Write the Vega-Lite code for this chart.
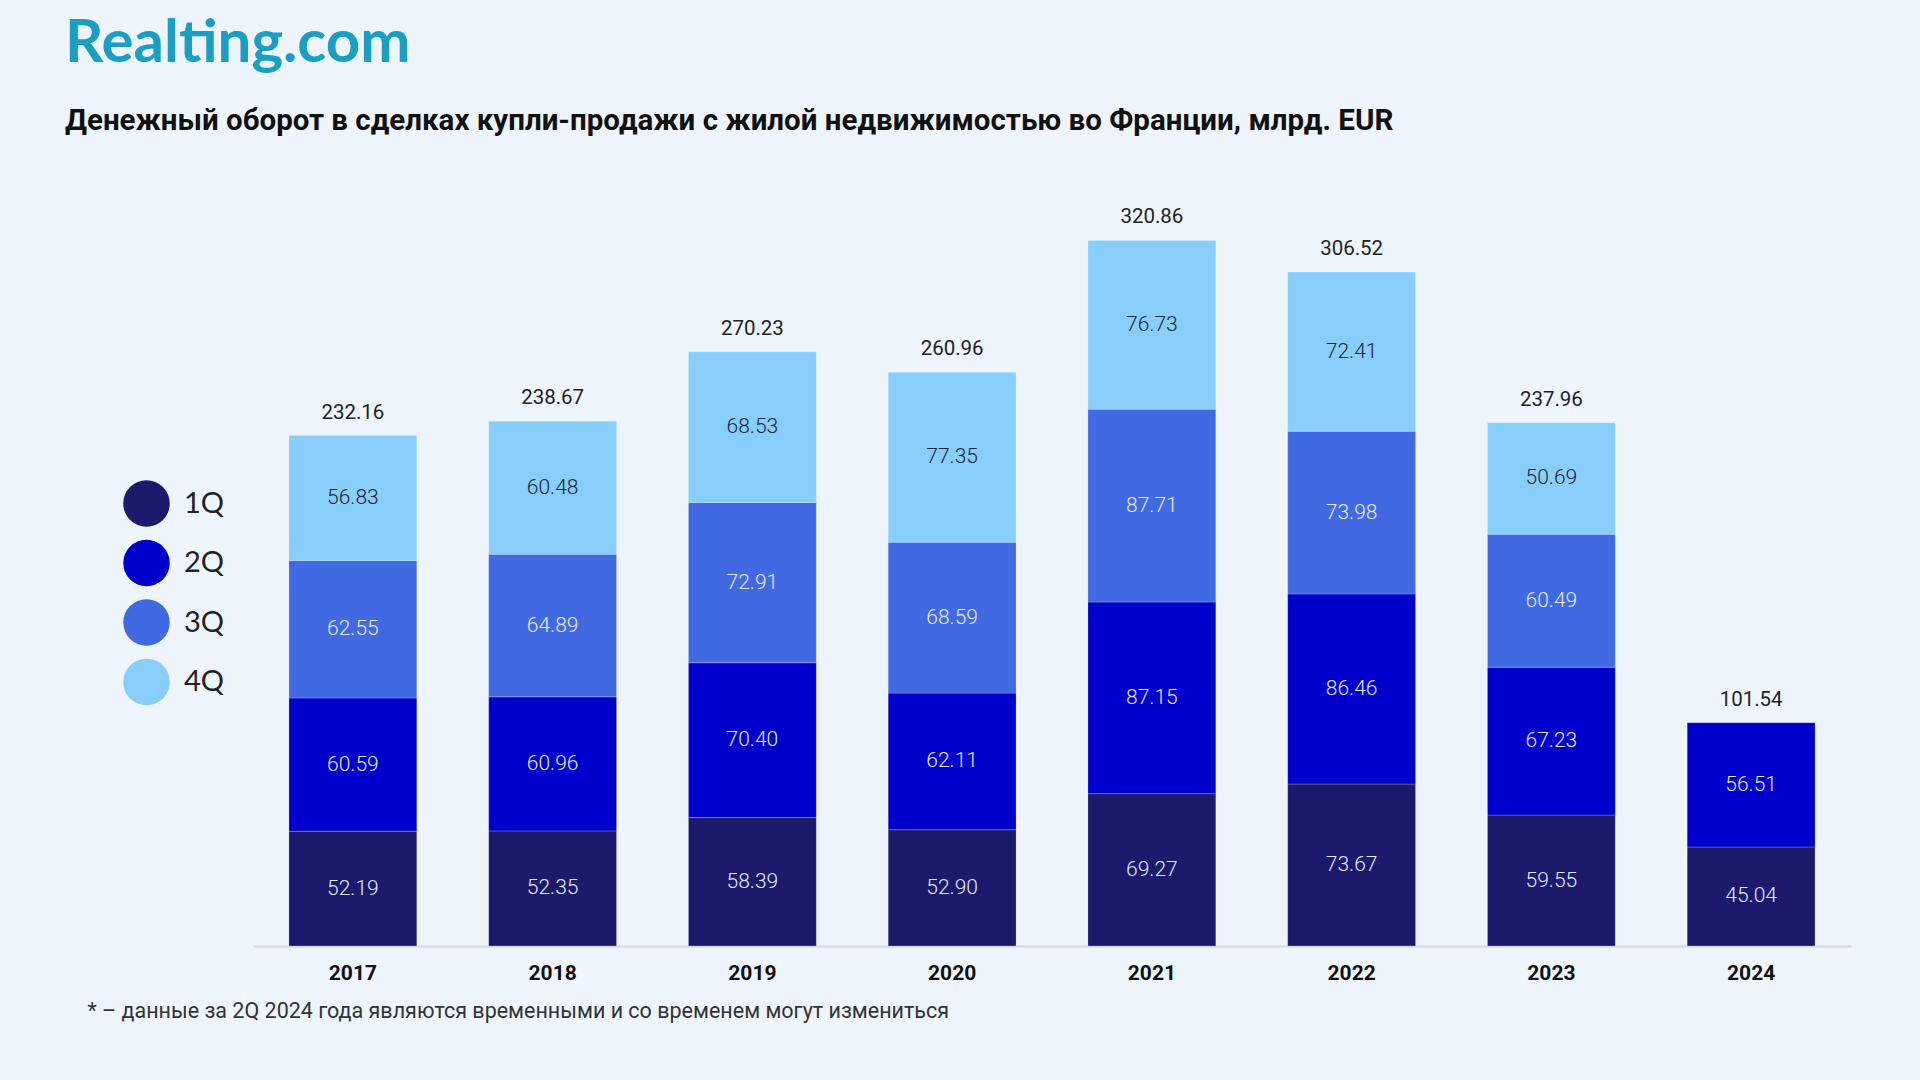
{
  "$schema": "https://vega.github.io/schema/vega-lite/v6.json",
  "width": 1598,
  "height": 796,
  "autosize": {"type": "none"},
  "padding": {"left": 253, "top": 150, "right": 69, "bottom": 134},
  "background": "#eef4fb",
  "title": {
    "text": "Realting.com",
    "subtitle": "Денежный оборот в сделках купли-продажи с жилой недвижимостью во Франции, млрд. EUR",
    "anchor": "start",
    "frame": "group",
    "dx": -188,
    "offset": 14,
    "font": "Lato",
    "fontSize": 60,
    "fontWeight": "bold",
    "color": "#1a9fc2",
    "subtitleFont": "Roboto",
    "subtitleFontSize": 29.5,
    "subtitleFontWeight": "bold",
    "subtitleColor": "#111111",
    "subtitlePadding": 32
  },
  "config": {"view": {"stroke": null}},
  "datasets": {
    "q": [
      {"year": "2017", "quarter": "1Q", "value": 52.19},
      {"year": "2017", "quarter": "2Q", "value": 60.59},
      {"year": "2017", "quarter": "3Q", "value": 62.55},
      {"year": "2017", "quarter": "4Q", "value": 56.83},
      {"year": "2018", "quarter": "1Q", "value": 52.35},
      {"year": "2018", "quarter": "2Q", "value": 60.96},
      {"year": "2018", "quarter": "3Q", "value": 64.89},
      {"year": "2018", "quarter": "4Q", "value": 60.48},
      {"year": "2019", "quarter": "1Q", "value": 58.39},
      {"year": "2019", "quarter": "2Q", "value": 70.40},
      {"year": "2019", "quarter": "3Q", "value": 72.91},
      {"year": "2019", "quarter": "4Q", "value": 68.53},
      {"year": "2020", "quarter": "1Q", "value": 52.90},
      {"year": "2020", "quarter": "2Q", "value": 62.11},
      {"year": "2020", "quarter": "3Q", "value": 68.59},
      {"year": "2020", "quarter": "4Q", "value": 77.35},
      {"year": "2021", "quarter": "1Q", "value": 69.27},
      {"year": "2021", "quarter": "2Q", "value": 87.15},
      {"year": "2021", "quarter": "3Q", "value": 87.71},
      {"year": "2021", "quarter": "4Q", "value": 76.73},
      {"year": "2022", "quarter": "1Q", "value": 73.67},
      {"year": "2022", "quarter": "2Q", "value": 86.46},
      {"year": "2022", "quarter": "3Q", "value": 73.98},
      {"year": "2022", "quarter": "4Q", "value": 72.41},
      {"year": "2023", "quarter": "1Q", "value": 59.55},
      {"year": "2023", "quarter": "2Q", "value": 67.23},
      {"year": "2023", "quarter": "3Q", "value": 60.49},
      {"year": "2023", "quarter": "4Q", "value": 50.69},
      {"year": "2024", "quarter": "1Q", "value": 45.04},
      {"year": "2024", "quarter": "2Q", "value": 56.51}
    ],
    "totals": [
      {"year": "2017", "total": 232.16},
      {"year": "2018", "total": 238.67},
      {"year": "2019", "total": 270.23},
      {"year": "2020", "total": 260.96},
      {"year": "2021", "total": 320.86},
      {"year": "2022", "total": 306.52},
      {"year": "2023", "total": 237.96},
      {"year": "2024", "total": 101.54}
    ]
  },
  "encoding": {
    "x": {
      "field": "year",
      "type": "nominal",
      "scale": {"paddingInner": 0.36, "paddingOuter": 0.18},
      "axis": {
        "title": "* – данные за 2Q 2024 года являются временными и со временем могут измениться",
        "titleX": -166,
        "titleY": 65,
        "titleAnchor": null,
        "titleAlign": "left",
        "titleBaseline": "middle",
        "titleFont": "Roboto",
        "titleFontSize": 21.5,
        "titleFontWeight": "normal",
        "titleColor": "#333333",
        "labelAngle": 0,
        "labelFont": "Roboto",
        "labelFontSize": 21,
        "labelFontWeight": "bold",
        "labelColor": "#111111",
        "labelPadding": 16,
        "ticks": false,
        "domainColor": "#d3d8e0",
        "domainWidth": 2
      }
    }
  },
  "layer": [
    {
      "data": {"name": "q"},
      "mark": {"type": "bar", "stroke": "#ffffff", "strokeWidth": 0.6, "strokeOpacity": 0.35},
      "encoding": {
        "y": {"field": "value", "type": "quantitative", "stack": "zero", "scale": {"domain": [0, 362], "nice": false}, "axis": null},
        "color": {
          "field": "quarter",
          "type": "nominal",
          "scale": {"domain": ["1Q", "2Q", "3Q", "4Q"], "range": ["#1b1a6d", "#0000cd", "#4169e1", "#87cefa"]},
          "legend": {
            "title": null,
            "orient": "none",
            "legendX": -130,
            "legendY": 330,
            "symbolType": "circle",
            "symbolSize": 2160,
            "symbolStrokeWidth": 0,
            "symbolOpacity": 1,
            "labelFontSize": 29,
            "labelFont": "Lato",
            "labelColor": "#222222",
            "labelOffset": 14,
            "rowPadding": 12.5
          }
        },
        "order": {"field": "quarter", "sort": "ascending"}
      }
    },
    {
      "data": {"name": "q"},
      "mark": {"type": "text", "font": "Roboto", "fontSize": 21, "fontWeight": 300, "baseline": "middle"},
      "encoding": {
        "y": {"field": "value", "type": "quantitative", "stack": "zero", "bandPosition": 0.5},
        "detail": {"field": "quarter"},
        "order": {"field": "quarter", "sort": "ascending"},
        "text": {"field": "value", "type": "quantitative", "format": ".2f"},
        "color": {"condition": {"test": "datum.quarter === '4Q'", "value": "#1c2340"}, "value": "#e4e9ff"}
      }
    },
    {
      "data": {"name": "totals"},
      "mark": {"type": "text", "font": "Roboto", "fontSize": 20.5, "color": "#222222", "baseline": "middle", "dy": -23},
      "encoding": {
        "y": {"field": "total", "type": "quantitative"},
        "text": {"field": "total", "type": "quantitative", "format": ".2f"}
      }
    }
  ]
}
